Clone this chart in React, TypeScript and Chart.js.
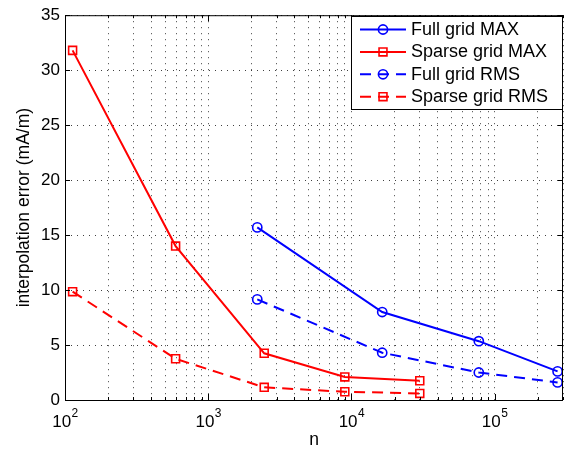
import { useEffect, useRef } from "react";
import { Chart, registerables } from "chart.js";

Chart.register(...registerables);

// ---- data ----
const fullGridN = [2200, 16400, 77500, 275000];
const fullGridMax = [15.7, 8.0, 5.35, 2.6];
const fullGridRms = [9.15, 4.3, 2.5, 1.6];

const sparseGridN = [113, 592, 2460, 8990, 30000];
const sparseGridMax = [31.8, 14.0, 4.25, 2.1, 1.75];
const sparseGridRms = [9.85, 3.75, 1.15, 0.75, 0.6];

const seriesLabels = ["Full grid MAX", "Sparse grid MAX", "Full grid RMS", "Sparse grid RMS"];

const xTickValues = [
  100, 200, 300, 400, 500, 600, 700, 800, 900,
  1000, 2000, 3000, 4000, 5000, 6000, 7000, 8000, 9000,
  10000, 20000, 30000, 40000, 50000, 60000, 70000, 80000, 90000,
  100000, 200000, 300000,
];
const xMajorExponents = [2, 3, 4, 5];
const yMin = 0;
const yMax = 35;
const yStep = 5;

const xTitle = "n";
const yTitle = "interpolation error (mA/m)";

const FONT = "'Liberation Sans', Arial, Helvetica, sans-serif";
const BLUE = "#0000ff";
const RED = "#ff0000";
const DASH = [11, 7];

const isPow10 = (v: number) => Math.abs(Math.log10(v) - Math.round(Math.log10(v))) < 1e-9;

const toPoints = (xs: number[], ys: number[]) => xs.map((x, i) => ({ x, y: ys[i] }));

const frameAndLegend = {
  id: "frameAndLegend",
  afterDraw(chart: any) {
    const { ctx, chartArea: a, scales } = chart;
    const xs = scales.x;
    const ys = scales.y;
    ctx.save();
    ctx.setLineDash([]);
    ctx.strokeStyle = "#000";
    ctx.lineWidth = 1;

    // inward ticks on all four sides
    ctx.beginPath();
    for (const t of xs.ticks) {
      const px = Math.round(xs.getPixelForValue(t.value)) + 0.5;
      const len = isPow10(t.value) ? 6 : 3;
      ctx.moveTo(px, a.bottom);
      ctx.lineTo(px, a.bottom - len);
      ctx.moveTo(px, a.top);
      ctx.lineTo(px, a.top + len);
    }
    for (const t of ys.ticks) {
      const py = Math.round(ys.getPixelForValue(t.value)) + 0.5;
      ctx.moveTo(a.left, py);
      ctx.lineTo(a.left + 5, py);
      ctx.moveTo(a.right, py);
      ctx.lineTo(a.right - 5, py);
    }
    ctx.stroke();
    ctx.strokeRect(a.left + 0.5, a.top + 0.5, a.right - a.left - 1, a.bottom - a.top);

    // x tick labels 10^k
    ctx.fillStyle = "#000";
    ctx.textBaseline = "alphabetic";
    ctx.textAlign = "left";
    for (const e of xMajorExponents) {
      const px = xs.getPixelForValue(Math.pow(10, e));
      ctx.font = `17px ${FONT}`;
      const w1 = ctx.measureText("10").width;
      ctx.font = `12px ${FONT}`;
      const w2 = ctx.measureText(String(e)).width;
      const start = px - (w1 + w2) / 2;
      ctx.font = `17px ${FONT}`;
      ctx.fillText("10", start, a.bottom + 26.5);
      ctx.font = `12px ${FONT}`;
      ctx.fillText(String(e), start + w1 + 0.5, a.bottom + 17);
    }

    // legend box
    const bx = 351.5, by = 16.5, bw = 211, bh = 93;
    ctx.fillStyle = "#fff";
    ctx.fillRect(bx, by, bw, bh);
    ctx.strokeStyle = "#000";
    ctx.lineWidth = 1;
    ctx.strokeRect(bx, by, bw, bh);
    const rows = [29.5, 51.9, 74.3, 96.7];
    chart.data.datasets.forEach((ds: any, i: number) => {
      const y = rows[i];
      ctx.strokeStyle = ds.borderColor;
      ctx.lineWidth = ds.borderWidth;
      ctx.setLineDash(ds.borderDash || []);
      ctx.lineDashOffset = 0;
      ctx.beginPath();
      ctx.moveTo(360, y);
      ctx.lineTo(406, y);
      ctx.stroke();
      ctx.setLineDash([]);
      ctx.lineWidth = ds.pointBorderWidth;
      ctx.beginPath();
      if (ds.pointStyle === "rect") {
        const s = Math.SQRT1_2 * ds.pointRadius;
        ctx.rect(383 - s, y - s, 2 * s, 2 * s);
      } else {
        ctx.arc(383, y, ds.pointRadius, 0, Math.PI * 2);
      }
      ctx.stroke();
      ctx.fillStyle = "#000";
      ctx.font = `18px ${FONT}`;
      ctx.textBaseline = "middle";
      ctx.textAlign = "left";
      ctx.fillText(ds.label, 411, y + 0.5);
    });
    ctx.restore();
  },
};

export default function App() {
  const ref = useRef<HTMLCanvasElement | null>(null);

  useEffect(() => {
    if (!ref.current) return;
    const common = {
      borderWidth: 2,
      backgroundColor: "transparent",
      pointBackgroundColor: "transparent",
      pointBorderWidth: 1.6,
      tension: 0,
      fill: false,
      clip: false as any,
    };
    const chart = new Chart(ref.current, {
      type: "line",
      data: {
        datasets: [
          {
            ...common,
            label: seriesLabels[0],
            data: toPoints(fullGridN, fullGridMax),
            borderColor: BLUE,
            pointBorderColor: BLUE,
            pointStyle: "circle",
            pointRadius: 4.6,
            borderDash: [],
          },
          {
            ...common,
            label: seriesLabels[1],
            data: toPoints(sparseGridN, sparseGridMax),
            borderColor: RED,
            pointBorderColor: RED,
            pointStyle: "rect",
            pointRadius: 5.6,
            borderDash: [],
          },
          {
            ...common,
            label: seriesLabels[2],
            data: toPoints(fullGridN, fullGridRms),
            borderColor: BLUE,
            pointBorderColor: BLUE,
            pointStyle: "circle",
            pointRadius: 4.6,
            borderDash: DASH,
          },
          {
            ...common,
            label: seriesLabels[3],
            data: toPoints(sparseGridN, sparseGridRms),
            borderColor: RED,
            pointBorderColor: RED,
            pointStyle: "rect",
            pointRadius: 5.6,
            borderDash: DASH,
          },
        ] as any,
      },
      options: {
        animation: false,
        responsive: false,
        maintainAspectRatio: false,
        layout: { padding: { top: 8, right: 8, left: 0, bottom: 0 } },
        plugins: {
          legend: { display: false },
          tooltip: { enabled: false },
        },
        scales: {
          x: {
            type: "logarithmic",
            min: 100,
            max: 300000,
            afterBuildTicks: (s: any) => {
              s.ticks = xTickValues.map((v) => ({ value: v, major: isPow10(v) }));
            },
            afterFit: (s: any) => {
              s.height = 53;
            },
            ticks: { display: false },
            grid: { color: "rgba(0,0,0,0.75)", lineWidth: 1, drawTicks: false },
            border: { display: false, dash: [1, 5] },
            title: {
              display: true,
              text: xTitle,
              color: "#000",
              font: { family: FONT, size: 17.5 },
              padding: { top: 0, bottom: 2 },
            },
          },
          y: {
            type: "linear",
            min: yMin,
            max: yMax,
            afterFit: (s: any) => {
              s.width = 65;
            },
            ticks: {
              stepSize: yStep,
              color: "#000",
              padding: 5,
              font: { family: FONT, size: 17 },
            },
            grid: { color: "rgba(0,0,0,0.75)", lineWidth: 1, drawTicks: false },
            border: { display: false, dash: [1, 5] },
            title: {
              display: true,
              text: yTitle,
              color: "#000",
              font: { family: FONT, size: 17.5 },
              padding: { top: 14, bottom: 0 },
            },
          },
        },
      } as any,
      plugins: [frameAndLegend],
    });
    return () => chart.destroy();
  }, []);

  return (
    <div style={{ position: "fixed", left: 0, top: 0, width: 571, height: 453, background: "#fff" }}>
      <canvas ref={ref} width={571} height={453} style={{ width: 571, height: 453, display: "block" }} />
    </div>
  );
}
